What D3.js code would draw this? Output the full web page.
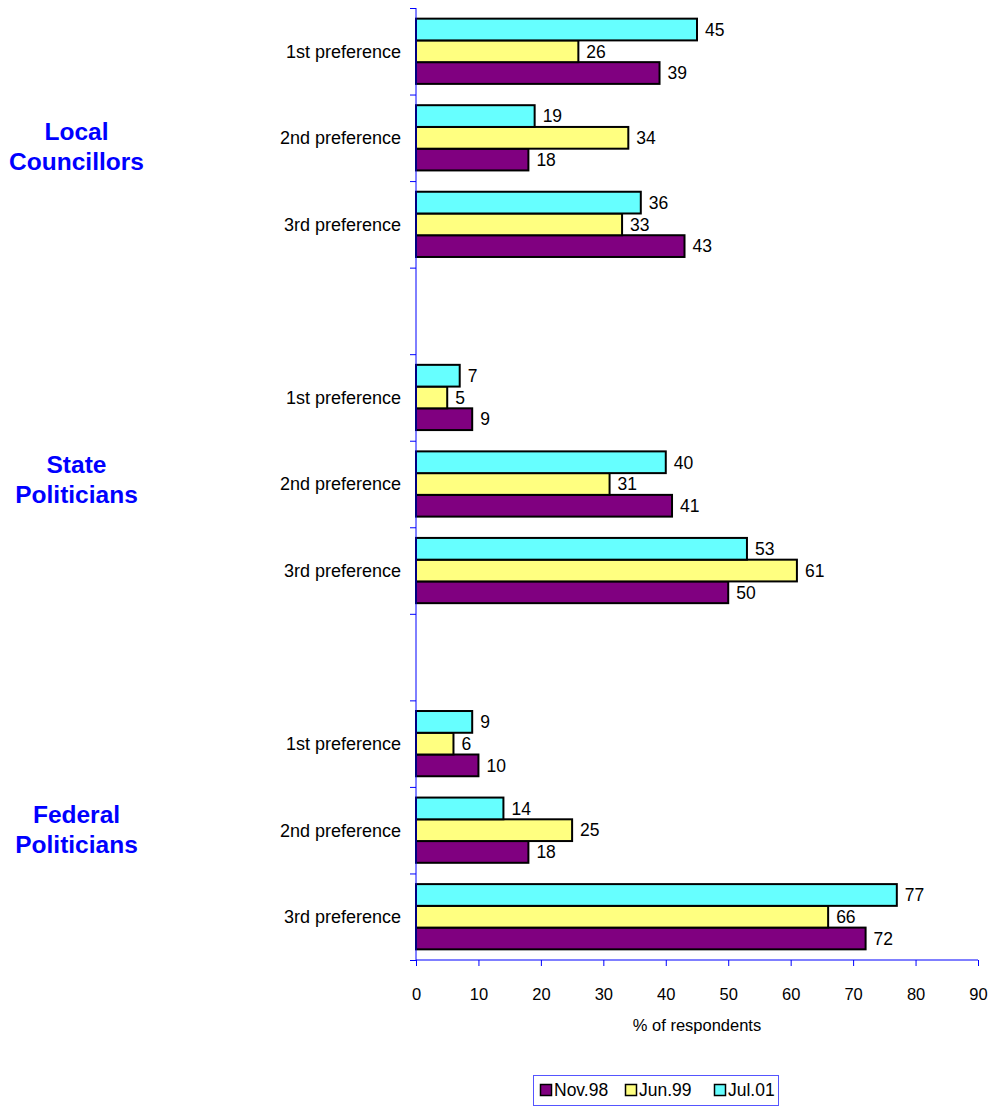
<!DOCTYPE html>
<html><head><meta charset="utf-8">
<script src="https://cdn.jsdelivr.net/npm/d3@7"></script>
<style>body{margin:0;background:#fff;} svg{display:block;font-family:"Liberation Sans",Arial,sans-serif;}</style>
</head><body><svg id="c" width="992" height="1107"></svg>
<script>
const groups = ["Local Councillors", "State Politicians", "Federal Politicians"];
const groupLines = [["Local", "Councillors"], ["State", "Politicians"], ["Federal", "Politicians"]];
const prefs = ["1st preference", "2nd preference", "3rd preference"];
const series = ["Nov.98", "Jun.99", "Jul.01"];
const colors = ["#800080", "#FFFF80", "#66FFFF"];
// values per group, per preference: [Nov.98, Jun.99, Jul.01]
const localVals = [[39, 26, 45], [18, 34, 19], [43, 33, 36]];
const stateVals = [[9, 5, 7], [41, 31, 40], [50, 61, 53]];
const federalVals = [[10, 6, 9], [18, 25, 14], [72, 66, 77]];
const xTicks = [0, 10, 20, 30, 40, 50, 60, 70, 80, 90];
const xTitle = "% of respondents";

const allVals = [localVals, stateVals, federalVals];
const cats = [];
groups.forEach((g, gi) => {
  prefs.forEach((p, pi) => cats.push({key: g + "|" + p, label: p, vals: allVals[gi][pi], g: gi}));
  if (gi < groups.length - 1) cats.push({key: "gap" + gi, label: "", vals: null, g: gi});
});

const svg = d3.select("#c");
const blue = "#0000FF";
const x = d3.scaleLinear().domain([0, 90]).range([416, 978]);
const y0 = d3.scaleBand().domain(cats.map(d => d.key)).range([8, 960]).padding(0);
const order = ["Jul.01", "Jun.99", "Nov.98"];
const y1 = d3.scaleBand().domain(order).range([0, y0.bandwidth()]).paddingInner(0).paddingOuter(0.49);
const yb = d3.scaleLinear().domain([0, cats.length]).range([8, 960]);

// bars
const cg = svg.append("g").selectAll("g").data(cats.filter(d => d.vals)).join("g")
  .attr("transform", d => `translate(0,${y0(d.key)})`);
cg.selectAll("rect").data(d => series.map((s, i) => ({s, v: d.vals[i], c: colors[i]}))).join("rect")
  .attr("x", x(0)).attr("y", d => y1(d.s)).attr("width", d => x(d.v) - x(0)).attr("height", y1.bandwidth())
  .attr("fill", d => d.c).attr("stroke", "#000").attr("stroke-width", 2);
cg.selectAll("text").data(d => series.map((s, i) => ({s, v: d.vals[i]}))).join("text")
  .attr("x", d => x(d.v) + 8).attr("y", d => y1(d.s) + y1.bandwidth() / 2).attr("dy", "0.36em")
  .attr("font-size", 17.5).attr("fill", "#000").text(d => d.v);

// category labels
svg.append("g").selectAll("text").data(cats.filter(d => d.label)).join("text")
  .attr("x", 401).attr("y", d => y0(d.key) + y0.bandwidth() / 2).attr("dy", "0.36em")
  .attr("text-anchor", "end").attr("font-size", 18).text(d => d.label);

// y axis (ticks at band boundaries)
const ya = svg.append("g").attr("transform", `translate(${x(0)},0)`)
  .call(d3.axisLeft(yb).tickValues(d3.range(0, cats.length + 1)).tickSize(6).tickSizeOuter(0).tickFormat(""));
ya.selectAll("path,line").attr("stroke", blue);
ya.select(".domain").attr("d", `M0,${yb(0)}V${yb(cats.length)}`);

// x axis
const xa = svg.append("g").attr("transform", `translate(0,960)`)
  .call(d3.axisBottom(x).tickValues(xTicks).tickSize(6).tickSizeOuter(0).tickPadding(22));
xa.selectAll("path,line").attr("stroke", blue);
xa.select(".domain").attr("d", `M${x(0)},0H${x(90)}`);
xa.selectAll("text").attr("font-size", 16.5).attr("fill", "#000").attr("font-family", "Liberation Sans, Arial, sans-serif");

svg.append("text").attr("x", (x(0) + x(90)) / 2).attr("y", 1031).attr("text-anchor", "middle")
  .attr("font-size", 16.5).text(xTitle);

// group labels (baselines of the two lines)
const groupBase = [140, 473, 823];
groupLines.forEach((lines, gi) => {
  lines.forEach((t, li) => {
    svg.append("text").attr("x", 76.5).attr("y", groupBase[gi] + li * 30)
      .attr("text-anchor", "middle").attr("font-size", 24.5).attr("font-weight", "bold")
      .attr("fill", blue).text(t);
  });
});

// legend
const lg = svg.append("g");
lg.append("rect").attr("x", 533.5).attr("y", 1075.5).attr("width", 245).attr("height", 30)
  .attr("fill", "#fff").attr("stroke", "#5555ff").attr("stroke-width", 1);
const lx = [540, 625, 714];
series.forEach((s, i) => {
  lg.append("rect").attr("x", lx[i] + 0.5).attr("y", 1084.5).attr("width", 11).attr("height", 11)
    .attr("fill", colors[i]).attr("stroke", "#000").attr("stroke-width", 1.5);
  lg.append("text").attr("x", lx[i] + 14).attr("y", 1090).attr("dy", "0.36em").attr("font-size", 17.5).text(s);
});
</script></body></html>
